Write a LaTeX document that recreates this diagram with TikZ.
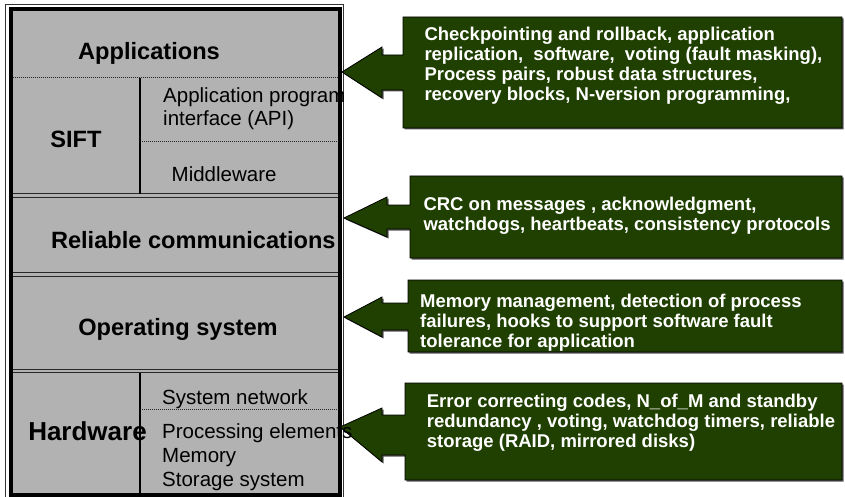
\documentclass[tikz,border=0pt]{standalone}
\usepackage{fontspec}
\setmainfont{Liberation Sans}
\definecolor{layergray}{RGB}{178,178,178}
\definecolor{calgreen}{RGB}{31,64,0}
\definecolor{sepgray}{RGB}{40,40,40}
\begin{document}
\begin{tikzpicture}[x=1pt,y=-1pt,
  lbl/.style={font=\fontsize{23.6}{28}\selectfont\bfseries, inner sep=0pt, anchor=base},
  sub/.style={font=\fontsize{20.5}{24}\selectfont, inner sep=0pt, anchor=base west},
  ctext/.style={font=\fontsize{18.5}{20}\selectfont\bfseries, text=white, align=left, inner sep=0pt, anchor=north west},
  callout/.style={fill=calgreen, draw=black, line width=0.8pt, line join=miter,
    preaction={fill=black!65, transform canvas={shift={(1.5pt,-1.5pt)}}}},
  dotsep/.style={draw=sepgray, line width=0.8pt, dash pattern=on 0.8pt off 1.2pt},
  dblsep/.style={draw=sepgray, line width=1pt},
  vsep/.style={draw=black, line width=1.3pt},
]
\useasboundingbox (0,0) rectangle (845,497);
\fill[white] (0,0) rectangle (845,497);
% frame of the layer stack
\fill[layergray] (10,8) rectangle (340,495);
\draw[line width=0.8pt, draw=black!80] (5.5,4.5) rectangle (343.5,498);
\draw[line width=4pt] (10.5,9) rectangle (340,494.5);
% separators
\draw[dotsep] (12.5,77.7) -- (338,77.7);
\draw[dotsep] (140,141.7) -- (338,141.7);
\draw[dotsep] (140,409.3) -- (338,409.3);
\draw[dblsep] (12.5,193.5) -- (338,193.5);
\draw[dblsep] (12.5,197) -- (338,197);
\draw[dblsep] (12.5,272.7) -- (338,272.7);
\draw[dblsep] (12.5,276.2) -- (338,276.2);
\draw[dblsep] (12.5,369.3) -- (338,369.3);
\draw[dblsep] (12.5,372.8) -- (338,372.8);
\draw[vsep] (140,78) -- (140,193.5);
\draw[vsep] (140,372.8) -- (140,493);
% callouts
\draw[callout] (342,72) -- (382,47) -- (382,55) -- (403,55) -- (403,17) -- (842,17) -- (842,128) -- (403,128) -- (403,90) -- (382,90) -- (382,98) -- cycle;
\draw[callout] (344,218) -- (387,197) -- (387,205) -- (410,205) -- (410,176) -- (842,176) -- (842,258) -- (410,258) -- (410,229) -- (387,229) -- (387,237) -- cycle;
\draw[callout] (344,317) -- (382,297) -- (382,303) -- (408,303) -- (408,280) -- (842,280) -- (842,352) -- (408,352) -- (408,330) -- (382,330) -- (382,337) -- cycle;
\draw[callout] (340,427) -- (382,408) -- (382,415) -- (405,415) -- (405,383) -- (842,383) -- (842,480) -- (405,480) -- (405,455) -- (382,455) -- (382,462) -- cycle;
% layer texts
\node[lbl] (app) at (149,60) {Applications};
\node[lbl] (sift) at (76,148) {SIFT};
\node[sub] (api1) at (163,103) {Application program};
\node[sub] (api2) at (163,126) {interface (API)};
\node[sub] (mw) at (171.5,181.5) {Middleware};
\node[lbl] (rc) at (193.3,248.3) {Reliable communications};
\node[lbl] (os) at (178,335) {Operating system};
\node[lbl, font=\fontsize{26}{30}\selectfont\bfseries] (hw) at (87.5,440) {Hardware};
\node[sub] (sn) at (162,404) {System network};
\node[sub] (pe) at (162,438.3) {Processing elements};
\node[sub] (mem) at (162,462.3) {Memory};
\node[sub] (ss) at (162,486.7) {Storage system};
% callout texts
\node[ctext] (c1) at (424.3,26.7) {\strut Checkpointing and rollback, application\\replication,\ \ software,\ \ voting (fault masking),\\Process pairs, robust data structures,\\recovery blocks, N-version programming,};
\node[ctext] (c2) at (423.3,196) {\strut CRC on messages , acknowledgment,\\watchdogs, heartbeats, consistency protocols};
\node[ctext] (c3) at (420,293) {\strut Memory management, detection of process\\failures, hooks to support software fault\\tolerance for application};
\node[ctext] (c4) at (426.7,393) {\strut Error correcting codes, N\_of\_M and standby\\redundancy , voting, watchdog timers, reliable\\storage (RAID, mirrored disks)};
\end{tikzpicture}
\end{document}
